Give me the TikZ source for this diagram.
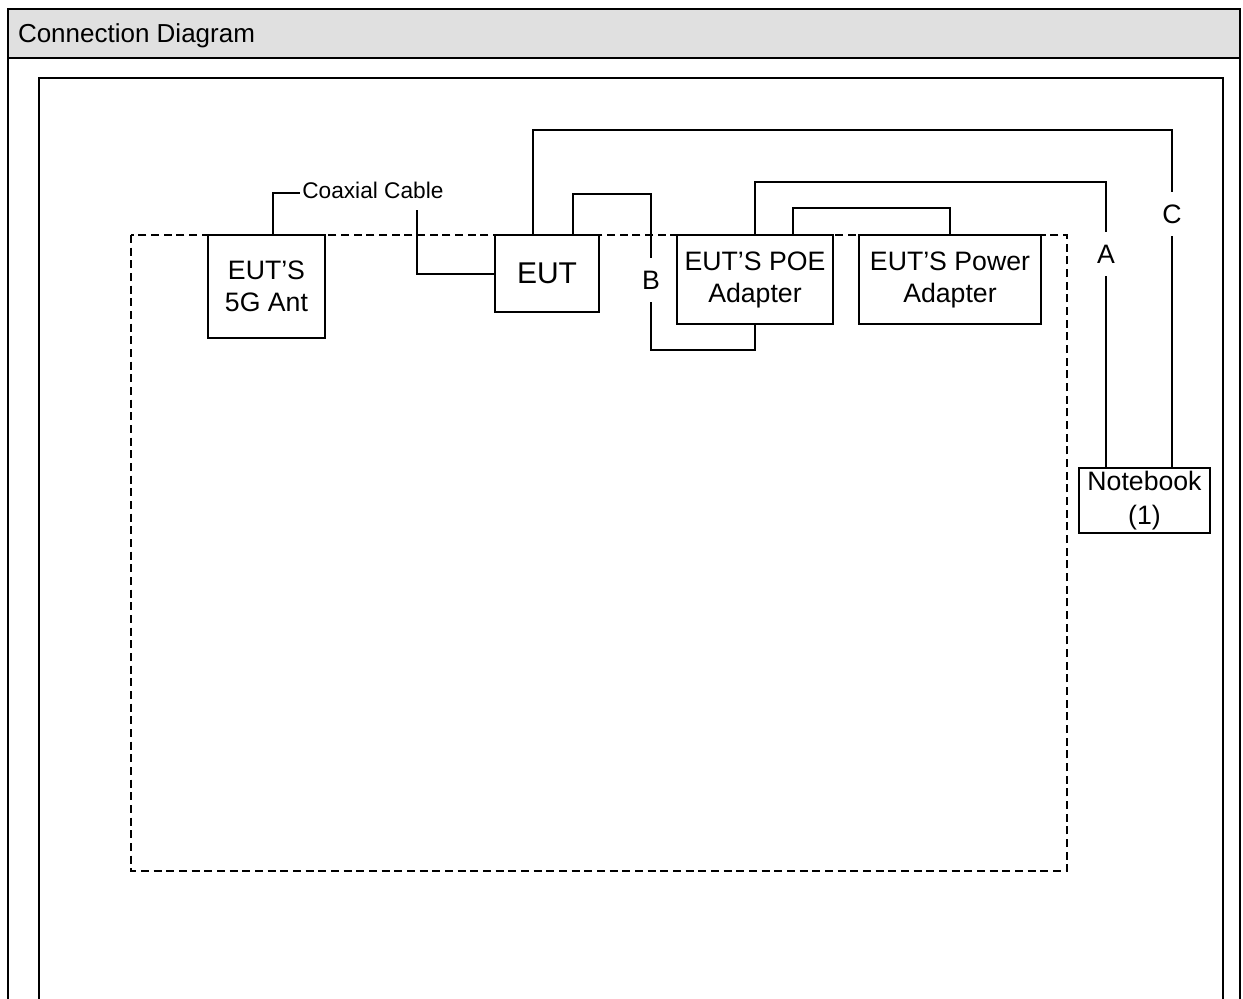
\documentclass[tikz,border=0pt]{standalone}
\usepackage{fontspec}
\setmainfont{Liberation Sans}
\definecolor{hdr}{RGB}{224,224,224}
\begin{document}
\begin{tikzpicture}[x=0.75pt,y=-0.75pt,line width=1.5pt,
  box/.style={draw, fill=white, inner sep=0pt, align=center, font=\fontsize{20}{24}\selectfont},
  lab/.style={inner xsep=0pt, inner ysep=9pt, font=\fontsize{20}{24}\selectfont},
  frame/.style={draw, line width=1.5pt},
  dashbox/.style={draw, line width=1.5pt, dash pattern=on 6pt off 3.5pt}]
\useasboundingbox (0,0) rectangle (1243,999);
% outer frame and header
\fill[hdr] (8,9) rectangle (1240,58);
\draw[frame] (8,999) -- (8,9) -- (1240,9) -- (1240,999);
\draw[frame] (8,58) -- (1240,58);
\node[anchor=west, inner sep=0pt, font=\fontsize{19.5}{23}\selectfont] (title) at (17,36) {Connection Diagram};
% inner frame
\draw[frame] (39,999) -- (39,78) -- (1223,78) -- (1223,999);
% dashed area
\draw[dashbox] (131,235) rectangle (1067,871);
% boxes
\node[box, minimum width=117*0.75pt, minimum height=103*0.75pt] (ant) at (266.5,286.5) {EUT’S\\5G Ant};
\node[box, minimum width=104*0.75pt, minimum height=77*0.75pt, font=\fontsize{22.5}{26}\selectfont] (eut) at (547,273.5) {EUT};
\node[box, minimum width=156*0.75pt, minimum height=89*0.75pt] (poe) at (755,279.5) {EUT’S POE\\Adapter};
\node[box, minimum width=182*0.75pt, minimum height=89*0.75pt] (pwr) at (950,279.5) {EUT’S Power\\Adapter};
\node[box, minimum width=131*0.75pt, minimum height=65*0.75pt, font=\fontsize{20}{26}\selectfont] (nb) at (1144.5,500.5) {Notebook\\(1)};
% labels
\node[anchor=west, inner sep=1pt, font=\fontsize{17}{20}\selectfont] (coax) at (300,190) {Coaxial Cable};
\node[lab] (lA) at (1106,254) {A};
\node[lab] (lB) at (651,280) {B};
\node[lab] (lC) at (1172,214) {C};
% coaxial cable
\coordinate (k1) at (273,193);
\draw (ant.north -| k1) -- (k1) -- (k1 -| coax.west);
\coordinate (k2) at (417,210);
\draw (k2) -- (k2 |- eut.west) -- (eut.west);
% cable C : EUT -> Notebook
\coordinate (c1) at (533,130);
\coordinate (c2) at (1172,130);
\draw (eut.north -| c1) -- (c1) -- (c2) -- (lC.north);
\draw (lC.south) -- (nb.north -| lC);
% cable B : EUT -> POE adapter
\coordinate (b1) at (573,194);
\coordinate (b2) at (651,194);
\coordinate (b3) at (651,350);
\coordinate (b4) at (755,350);
\draw (eut.north -| b1) -- (b1) -- (b2) -- (lB.north);
\draw (lB.south) -- (b3) -- (b4) -- (poe.south -| b4);
% cable A : POE adapter -> Notebook
\coordinate (a1) at (755,182);
\coordinate (a2) at (1106,182);
\draw (poe.north -| a1) -- (a1) -- (a2) -- (lA.north);
\draw (lA.south) -- (nb.north -| lA);
% POE adapter -> Power adapter
\coordinate (p1) at (793,208);
\coordinate (p2) at (950,208);
\draw (poe.north -| p1) -- (p1) -- (p2) -- (pwr.north -| p2);
\end{tikzpicture}
\end{document}
